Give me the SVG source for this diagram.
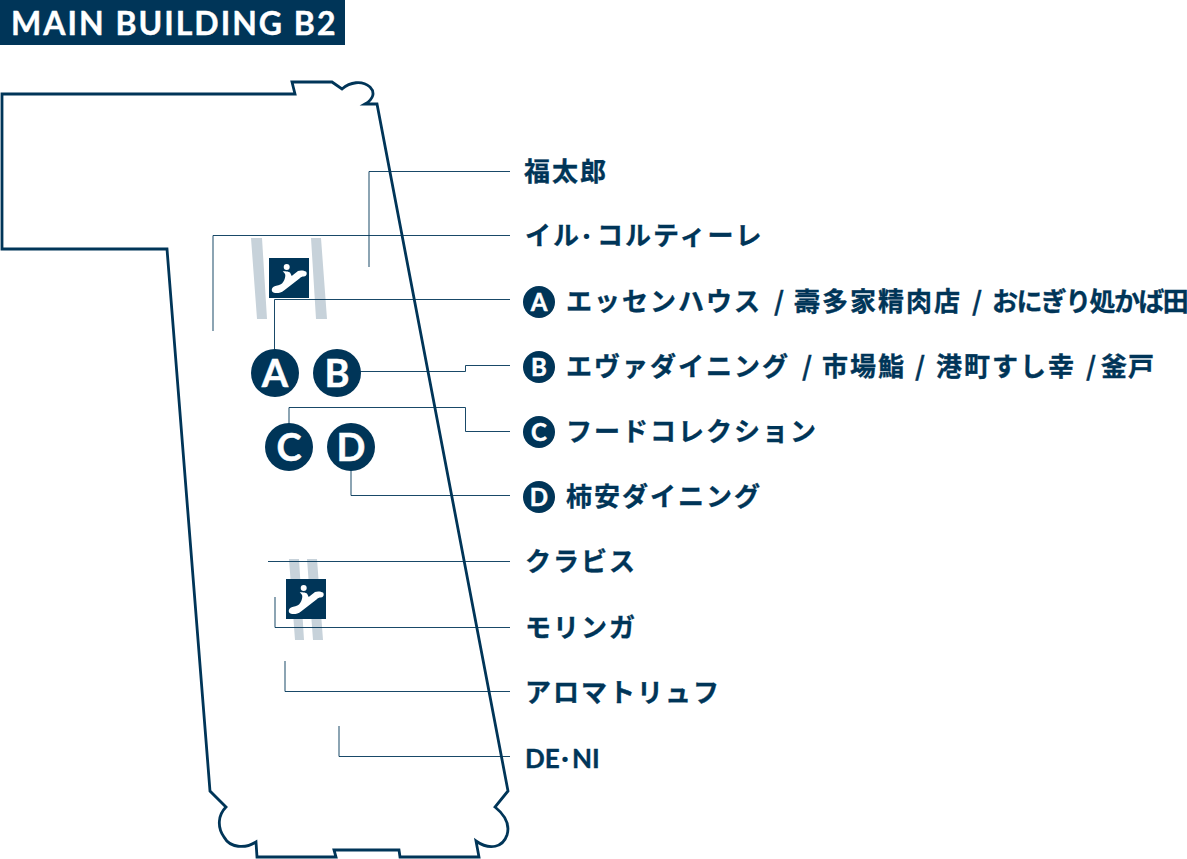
<svg xmlns="http://www.w3.org/2000/svg" width="1187" height="859" viewBox="0 0 1187 859">
<style>
.t{font-family:"Noto Sans CJK JP","Noto Sans",sans-serif;font-weight:700;font-size:26px;fill:#003558;stroke:#003558;stroke-width:.35;letter-spacing:2px}
.d{font-size:13px;stroke-width:2;letter-spacing:0}
.l{fill:none;stroke:#003558;stroke-width:1;opacity:.9}
.e{fill:#c7d2da}
.b{fill:#003558}
.bl{font-family:Lato,"Liberation Sans",sans-serif;font-weight:700;fill:#fff;stroke:#fff;stroke-width:.5;text-anchor:middle}
.bs{font-size:24px}.bb{font-size:38px}
.i{fill:#fff}
</style>
<defs>
<g id="esc"><rect width="40" height="40" fill="#003558"/><circle cx="17.700" cy="9" r="3" class="i"/><path class="i" d="M13.700 13.300C17 13.300 21 13.500 21.500 15.500L22.700 18L29 13C31 12 35 12.300 37 13.500C38.500 15.500 37.500 18.300 35 18.500C33 18.500 32 19 30.500 20.500L15 32.500C12 35 8 35.500 5 34.800C2 34 2 30 5 28.500C8 27.500 11 27 13 25.500C15 23.500 16 20.500 16.300 18C16.500 16 15.500 15 13.700 13.300Z"/></g>
</defs>
<g id="title"><rect x="0" y="0" width="345" height="45" fill="#003558"/><text x="11" y="35" style="font-family:Lato,'Liberation Sans',sans-serif;font-weight:700;font-size:32px;fill:#fff;stroke:#fff;stroke-width:.4;letter-spacing:2px">MAIN BUILDING B2</text></g>
<g id="escalator-strips">
<path class="e" d="M251 238H262L267 319H257ZM311 238H321L327 319H316ZM289 559H299L304 640H295ZM307 559H317L323 640H313Z"/>
</g>
<path id="outline" fill="none" stroke="#003558" stroke-width="2.800" d="M2 94H295L292 82H332L342 89C350 82 362 80 370 87C375 92 374 99 365 104H377L508 791L495 807C505 815 510 825 507 835C503 847 490 851 476 841L479 857H400L399 850H334L336 857H257L256 842C245 849 230 848 224 837C217 827 218 815 226 807L210 791L167 249H2Z"/>
<g id="connectors">
<path class="l" d="M510 171.500H369V267"/>
<path class="l" d="M510 235.500H213V331"/>
<path class="l" d="M510 299.500H274.500V350"/>
<path class="l" d="M510 365.500H465.500V371.500H360"/>
<path class="l" d="M510 431.500H465.500V407.500H289V425"/>
<path class="l" d="M510 495.500H351V470"/>
<path class="l" d="M510 561.500H268"/>
<path class="l" d="M510 627.500H275V597"/>
<path class="l" d="M510 691.500H285V661"/>
<path class="l" d="M510 756.500H339V726"/>
</g>
<use id="escalator-1" href="#esc" x="269" y="258"/>
<use id="escalator-2" href="#esc" x="286" y="579"/>
<g id="node-A"><circle class="b" cx="275" cy="373" r="24"/><text class="bl bb" x="275" y="387">A</text></g>
<g id="node-B"><circle class="b" cx="337" cy="373" r="24"/><text class="bl bb" x="337" y="387">B</text></g>
<g id="node-C"><circle class="b" cx="289" cy="447" r="24"/><text class="bl bb" x="289" y="461">C</text></g>
<g id="node-D"><circle class="b" cx="351" cy="447" r="24"/><text class="bl bb" x="351" y="461">D</text></g>
<g id="label-1"><text class="t" x="524" y="181">福太郎</text></g>
<g id="label-2"><text class="t" x="525" y="245">イル<tspan class="d" x="580" dy="-4">・</tspan><tspan x="597" dy="4">コルティーレ</tspan></text></g>
<g id="label-A"><circle class="b" cx="539" cy="302" r="16"/><text class="bl bs" x="539" y="310.500">A</text><text class="t" y="311"><tspan x="566">エッセンハウス</tspan><tspan x="774">/</tspan><tspan x="794">壽多家精肉店</tspan><tspan x="972">/</tspan><tspan x="992" letter-spacing="-1.600">おにぎり処かば田</tspan></text></g>
<g id="label-B"><circle class="b" cx="539" cy="367" r="16"/><text class="bl bs" x="539" y="375.500">B</text><text class="t" y="376"><tspan x="566">エヴァダイニング</tspan><tspan x="802">/</tspan><tspan x="822">市場鮨</tspan><tspan x="915">/</tspan><tspan x="936">港町すし幸</tspan><tspan x="1086">/</tspan><tspan x="1101" letter-spacing="1">釜戸</tspan></text></g>
<g id="label-C"><circle class="b" cx="539" cy="432" r="16"/><text class="bl bs" x="539" y="440.500">C</text><text class="t" x="566" y="441" letter-spacing="2.400">フードコレクション</text></g>
<g id="label-D"><circle class="b" cx="539" cy="497" r="16"/><text class="bl bs" x="539" y="505.500">D</text><text class="t" x="566" y="506" letter-spacing="2.700">柿安ダイニング</text></g>
<g id="label-3"><text class="t" x="525" y="571">クラビス</text></g>
<g id="label-4"><text class="t" x="525" y="637">モリンガ</text></g>
<g id="label-5"><text class="t" x="525" y="702">アロマトリュフ</text></g>
<g id="label-6"><text class="t" y="768" style="font-family:Lato,'Noto Sans CJK JP',sans-serif;letter-spacing:0"><tspan x="525">DE</tspan><tspan class="d" x="558.500" dy="-4">・</tspan><tspan x="572" dy="4">NI</tspan></text></g>
</svg>
